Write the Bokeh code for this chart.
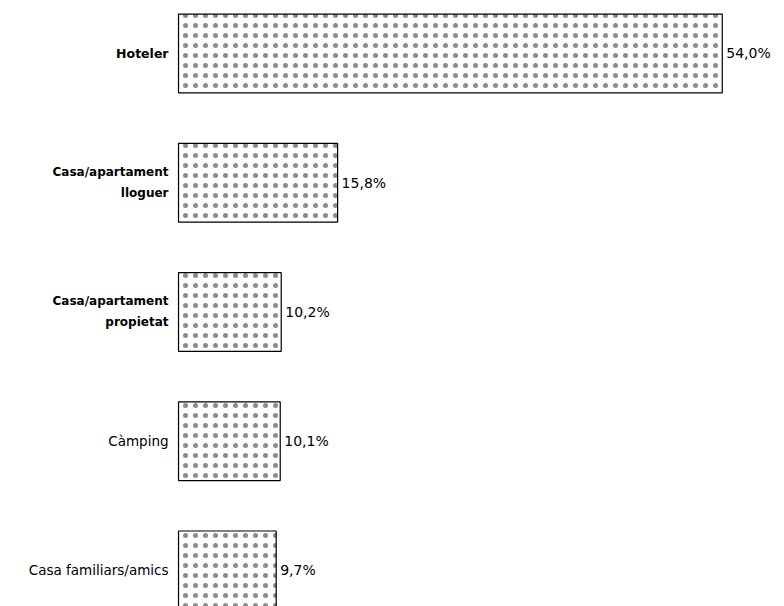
from bokeh.plotting import figure
from bokeh.models import Range1d, ColumnDataSource
from bokeh.core.properties import value
from bokeh.embed import file_html
from bokeh.resources import INLINE

categories = ["Hoteler", "Casa/apartament\nlloguer", "Casa/apartament\npropietat",
              "Càmping", "Casa familiars/amics"]
values = [54.0, 15.8, 10.2, 10.1, 9.7]
value_labels = ["54,0%", "15,8%", "10,2%", "10,1%", "9,7%"]
label_styles = ["bold", "bold", "bold", "normal", "normal"]
label_sizes = ["12.5px", "12px", "12px", "13.5px", "13.5px"]

ypos = list(range(len(categories)))
src = ColumnDataSource(dict(y=ypos, v=values, cat=categories, lab=value_labels,
                            st=label_styles, sz=label_sizes, zero=[0] * len(values)))

p = figure(width=784, height=606, output_backend="svg", toolbar_location=None,
           x_range=Range1d(-17.68, 60.18), y_range=Range1d(4.279, -0.41),
           min_border_left=0, min_border_right=0, min_border_top=0, min_border_bottom=0)
p.axis.visible = False
p.grid.visible = False
p.outline_line_color = None
p.background_fill_color = "white"

p.hbar(y="y", left=0, right="v", height=0.61, source=src,
       fill_color="white", line_color="black", line_width=1.2,
       hatch_pattern="dot", hatch_color="black", hatch_alpha=0.45,
       hatch_scale=10, hatch_weight=0.5)

p.text(x="v", y="y", text="lab", source=src, x_offset=4,
       text_align="left", text_baseline="middle", text_font_size="14px",
       text_font=value("DejaVu Sans"), text_color="black")

p.text(x="zero", y="y", text="cat", source=src, x_offset=-10,
       text_align="right", text_baseline="middle", text_font_size="sz",
       text_font=value("DejaVu Sans"), text_font_style="st", text_color="black",
       text_line_height=1.5)

open("out.html", "w").write(file_html(p, INLINE))
